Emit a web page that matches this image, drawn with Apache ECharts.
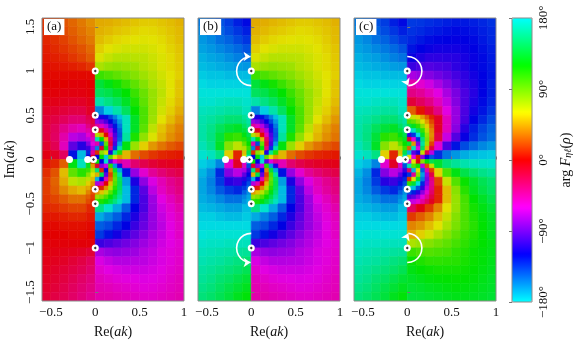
<!DOCTYPE html>
<html><head><meta charset="utf-8">
<style>html,body{margin:0;padding:0;background:#fff}#c{width:577px;height:344px}</style>
<script src="https://cdn.jsdelivr.net/npm/echarts@6/dist/echarts.min.js"></script></head>
<body><div id="c"></div>
<script>
var xCoarse=[-.55,-.45,-.35,-.25,-.15,-.05,.05,.15,.25,.35,.45,.55,.65,.75,.85,.95];
var yCoarse=[1.55,1.45,1.35,1.25,1.15,1.05,.95,.85,.75,.65,.55,.45,.35,.25,.15,.05,-.05,-.15,-.25,-.35,-.45,-.55,-.65,-.75,-.85,-.95,-1.05,-1.15,-1.25,-1.35,-1.45,-1.55];
var xFine=[-.075,-.025,.025,.075,.125,.175,.225,.275];
var yFine=[.475,.425,.375,.325,.275,.225,.175,.125,.075,.025,-.025,-.075,-.125,-.175,-.225,-.275,-.325,-.375,-.425,-.475];
var argACoarse=[
[14,18,22,27,32,38,45,46,48,50,52,54,54,52,50,47],
[12,15,20,25,30,35,47,49,52,54,56,58,57,55,52,49],
[10,13,17,22,27,32,50,54,57,59,60,61,60,58,54,50],
[8,11,14,18,22,28,55,60,63,65,65,65,63,60,56,52],
[6,8,10,14,18,24,62,68,72,72,71,70,66,62,58,53],
[4,5,6,8,10,14,75,80,82,80,78,72,68,62,58,54],
[2,2,2,2,2,2,105,100,95,90,85,78,72,65,60,55],
[0,0,0,-2,-2,0,135,125,115,105,95,85,75,68,60,52],
[-2,-2,-4,-4,-4,-2,145,140,130,120,105,92,80,70,60,52],
[-6,-6,-8,-10,-10,-6,165,155,145,130,112,95,80,68,58,50],
[-10,-12,-15,-18,-18,-10,-155,-175,165,145,120,100,80,65,55,46],
[-14,-18,-24,-30,-30,-15,-125,-135,-165,170,130,100,78,60,50,40],
[-16,-24,-36,-45,-50,-25,-25,-70,-135,170,130,96,70,52,42,34],
[-16,-26,-45,-70,-75,-50,101,-7,-120,162,113,82,62,48,38,31],
[-12,-22,-50,-95,-110,-100,0,40,-148,124,80,55,40,31,24,19],
[-5,-10,-25,-125,-170,-40,120,-120,92,48,29,20,14,10,8,6],
[5,10,25,125,170,40,-120,120,-92,-48,-29,-20,-14,-10,-8,-6],
[12,22,50,95,110,100,0,-40,148,-124,-80,-55,-40,-31,-24,-19],
[16,26,45,70,75,50,-101,7,120,-162,-113,-82,-62,-48,-38,-31],
[16,24,36,45,50,25,25,70,135,-170,-130,-96,-70,-52,-42,-34],
[14,18,24,30,30,15,125,135,165,-170,-130,-100,-78,-60,-50,-40],
[10,12,15,18,18,10,155,175,-165,-145,-120,-100,-80,-65,-55,-46],
[6,6,8,10,10,6,-165,-155,-145,-130,-112,-95,-80,-68,-58,-50],
[2,2,4,4,4,2,-145,-140,-130,-120,-105,-92,-80,-70,-60,-52],
[0,0,0,2,2,0,-135,-125,-115,-105,-95,-85,-75,-68,-60,-52],
[-2,-2,-2,-2,-2,-2,-105,-100,-95,-90,-85,-78,-72,-65,-60,-55],
[-4,-5,-6,-8,-10,-14,-75,-80,-82,-80,-78,-72,-68,-62,-58,-54],
[-6,-8,-10,-14,-18,-24,-62,-68,-72,-72,-71,-70,-66,-62,-58,-53],
[-8,-11,-14,-18,-22,-28,-55,-60,-63,-65,-65,-65,-63,-60,-56,-52],
[-10,-13,-17,-22,-27,-32,-50,-54,-57,-59,-60,-61,-60,-58,-54,-50],
[-12,-15,-20,-25,-30,-35,-47,-49,-52,-54,-56,-58,-57,-55,-52,-49],
[-14,-18,-22,-27,-32,-38,-45,-46,-48,-50,-52,-54,-54,-52,-50,-47]];
var argAFine=[
[-20,-12,-108,-113,-124,-138,-154,-171],
[-25,-16,-79,-86,-100,-119,-139,-161],
[-35,-22,-41,-52,-72,-97,-125,-152],
[-45,-30,7,-9,-38,-74,-110,-145],
[-55,-40,73,46,2,-49,-99,-142],
[-70,-50,167,120,48,-28,-93,-146],
[-85,-60,-47,-140,95,-17,-101,-162],
[-105,-75,-154,-12,121,-35,-133,164],
[-130,-40,12,84,65,-111,160,111],
[-120,-10,-120,120,-175,96,59,39],
[120,10,120,-120,175,-96,-59,-39],
[130,40,-12,-84,-65,111,-160,-111],
[105,75,154,12,-121,35,133,-164],
[85,60,47,140,-95,17,101,162],
[70,50,-167,-120,-48,28,93,146],
[55,40,-73,-46,-2,49,99,142],
[45,30,-7,9,38,74,110,145],
[35,22,41,52,72,97,125,152],
[25,16,79,86,100,119,139,161],
[20,12,108,113,124,138,154,171]];
var argBCoarse=[
[-152,-148,-142,-136,-128,-122,45,46,48,50,52,54,54,52,50,47],
[-156,-152,-146,-140,-134,-128,47,49,52,54,56,58,57,55,52,49],
[-160,-156,-150,-146,-140,-134,50,54,57,59,60,61,60,58,54,50],
[-163,-160,-156,-152,-148,-142,55,60,63,65,65,65,63,60,56,52],
[-167,-164,-162,-158,-154,-150,62,68,72,72,71,70,66,62,58,53],
[-170,-168,-166,-164,-162,-160,75,80,82,80,78,72,68,62,58,54],
[-174,-172,-172,-170,-170,-170,105,100,95,90,85,78,72,65,60,55],
[-178,-176,-176,-176,-176,-176,135,125,115,105,95,85,75,68,60,52],
[178,178,178,178,178,178,145,140,130,120,105,92,80,70,60,52],
[175,175,172,170,170,174,165,155,145,130,112,95,80,68,58,50],
[170,168,165,162,162,170,-155,-175,165,145,120,100,80,65,55,46],
[166,162,156,150,150,165,-125,-135,-165,170,130,100,78,60,50,40],
[164,156,144,135,130,155,-25,-70,-135,170,130,96,70,52,42,34],
[164,154,135,110,105,130,101,-7,-120,162,113,82,62,48,38,31],
[168,158,130,85,70,80,0,40,-148,124,80,55,40,31,24,19],
[175,170,155,55,10,140,120,-120,92,48,29,20,14,10,8,6],
[-175,-170,-155,-55,-10,-140,-120,120,-92,-48,-29,-20,-14,-10,-8,-6],
[-168,-158,-130,-85,-70,-80,0,-40,148,-124,-80,-55,-40,-31,-24,-19],
[-164,-154,-135,-110,-105,-130,-101,7,120,-162,-113,-82,-62,-48,-38,-31],
[-164,-156,-144,-135,-130,-155,25,70,135,-170,-130,-96,-70,-52,-42,-34],
[-166,-162,-156,-150,-150,-165,125,135,165,-170,-130,-100,-78,-60,-50,-40],
[-170,-168,-165,-162,-162,-170,155,175,-165,-145,-120,-100,-80,-65,-55,-46],
[-175,-175,-172,-170,-170,-174,-165,-155,-145,-130,-112,-95,-80,-68,-58,-50],
[-178,-178,-178,-178,-178,-178,-145,-140,-130,-120,-105,-92,-80,-70,-60,-52],
[178,176,176,176,176,176,-135,-125,-115,-105,-95,-85,-75,-68,-60,-52],
[174,172,172,170,170,170,-105,-100,-95,-90,-85,-78,-72,-65,-60,-55],
[170,168,166,164,162,160,-75,-80,-82,-80,-78,-72,-68,-62,-58,-54],
[167,164,162,158,154,150,-62,-68,-72,-72,-71,-70,-66,-62,-58,-53],
[163,160,156,152,148,142,-55,-60,-63,-65,-65,-65,-63,-60,-56,-52],
[160,156,150,146,140,134,-50,-54,-57,-59,-60,-61,-60,-58,-54,-50],
[156,152,146,140,134,128,-47,-49,-52,-54,-56,-58,-57,-55,-52,-49],
[152,148,142,136,128,122,-45,-46,-48,-50,-52,-54,-54,-52,-50,-47]];
var argBFine=[
[160,168,-108,-113,-124,-138,-154,-171],
[155,164,-79,-86,-100,-119,-139,-161],
[145,158,-41,-52,-72,-97,-125,-152],
[135,150,7,-9,-38,-74,-110,-145],
[125,140,73,46,2,-49,-99,-142],
[110,130,167,120,48,-28,-93,-146],
[95,120,-47,-140,95,-17,-101,-162],
[75,105,-154,-12,121,-35,-133,164],
[50,140,12,84,65,-111,160,111],
[60,170,-120,120,-175,96,59,39],
[-60,-170,120,-120,175,-96,-59,-39],
[-50,-140,-12,-84,-65,111,-160,-111],
[-75,-105,154,12,-121,35,133,-164],
[-95,-120,47,140,-95,17,101,162],
[-110,-130,-167,-120,-48,28,93,146],
[-125,-140,-73,-46,-2,49,99,142],
[-135,-150,-7,9,38,74,110,145],
[-145,-158,41,52,72,97,125,152],
[-155,-164,79,86,100,119,139,161],
[-160,-168,108,113,124,138,154,171]];
var argCCoarse=[
[-152,-148,-142,-136,-128,-122,-135,-134,-132,-130,-128,-126,-126,-128,-130,-133],
[-156,-152,-146,-140,-134,-128,-133,-131,-128,-126,-124,-122,-123,-125,-128,-131],
[-160,-156,-150,-146,-140,-134,-130,-126,-123,-121,-120,-119,-120,-122,-126,-130],
[-163,-160,-156,-152,-148,-142,-125,-120,-117,-115,-115,-115,-117,-120,-124,-128],
[-167,-164,-162,-158,-154,-150,-118,-112,-108,-108,-109,-110,-114,-118,-122,-127],
[-170,-168,-166,-164,-162,-160,-105,-100,-98,-100,-102,-108,-112,-118,-122,-126],
[-174,-172,-172,-170,-170,-170,-75,-80,-85,-90,-95,-102,-108,-115,-120,-125],
[-178,-176,-176,-176,-176,-176,-45,-55,-65,-75,-85,-95,-105,-112,-120,-128],
[178,178,178,178,178,178,-35,-40,-50,-60,-75,-88,-100,-110,-120,-128],
[175,175,172,170,170,174,-15,-25,-35,-50,-68,-85,-100,-112,-122,-130],
[170,168,165,162,162,170,25,5,-15,-35,-60,-80,-100,-115,-125,-134],
[166,162,156,150,150,165,55,45,15,-10,-50,-80,-102,-120,-130,-140],
[164,156,144,135,130,155,155,110,45,-10,-50,-84,-110,-128,-138,-146],
[164,154,135,110,105,130,-79,173,60,-18,-67,-98,-118,-132,-142,-149],
[168,158,130,85,70,80,180,-140,32,-56,-100,-125,-140,-149,-156,-161],
[175,170,155,55,10,140,-60,60,-88,-132,-151,-160,-166,-170,-172,-174],
[-175,-170,-155,-55,-10,-140,60,-60,88,132,151,160,166,170,172,174],
[-168,-158,-130,-85,-70,-80,180,140,-32,56,100,125,140,149,156,161],
[-164,-154,-135,-110,-105,-130,79,-173,-60,18,67,98,118,132,142,149],
[-164,-156,-144,-135,-130,-155,-155,-110,-45,10,50,84,110,128,138,146],
[-166,-162,-156,-150,-150,-165,-55,-45,-15,10,50,80,102,120,130,140],
[-170,-168,-165,-162,-162,-170,-25,-5,15,35,60,80,100,115,125,134],
[-175,-175,-172,-170,-170,-174,15,25,35,50,68,85,100,112,122,130],
[-178,-178,-178,-178,-178,-178,35,40,50,60,75,88,100,110,120,128],
[178,176,176,176,176,176,45,55,65,75,85,95,105,112,120,128],
[174,172,172,170,170,170,75,80,85,90,95,102,108,115,120,125],
[170,168,166,164,162,160,105,100,98,100,102,108,112,118,122,126],
[167,164,162,158,154,150,118,112,108,108,109,110,114,118,122,127],
[163,160,156,152,148,142,125,120,117,115,115,115,117,120,124,128],
[160,156,150,146,140,134,130,126,123,121,120,119,120,122,126,130],
[156,152,146,140,134,128,133,131,128,126,124,122,123,125,128,131],
[152,148,142,136,128,122,135,134,132,130,128,126,126,128,130,133]];
var argCFine=[
[160,168,72,67,56,42,26,9],
[155,164,101,94,80,61,41,19],
[145,158,139,128,108,83,55,28],
[135,150,-173,171,142,106,70,35],
[125,140,-107,-134,-178,131,81,38],
[110,130,-13,-60,-132,152,87,34],
[95,120,133,40,-85,163,79,18],
[75,105,26,168,-59,145,47,-16],
[50,140,-168,-96,-115,69,-20,-69],
[60,170,60,-60,5,-84,-121,-141],
[-60,-170,-60,60,-5,84,121,141],
[-50,-140,168,96,115,-69,20,69],
[-75,-105,-26,-168,59,-145,-47,16],
[-95,-120,-133,-40,85,-163,-79,-18],
[-110,-130,13,60,132,-152,-87,-34],
[-125,-140,107,134,178,-131,-81,-38],
[-135,-150,173,-171,-142,-106,-70,-35],
[-145,-158,-139,-128,-108,-83,-55,-28],
[-155,-164,-101,-94,-80,-61,-41,-19],
[-160,-168,-72,-67,-56,-42,-26,-9]];
var poles=[[0,1],[0,.5],[0,.335],[0,-.335],[0,-.5],[0,-1],[-.02,0]];
var zeros=[[-.29,0],[-.085,0]];
var arcBTop=[[0,.835],[-.083,.857],[-.143,.918],[-.165,1],[-.143,1.083],[-.083,1.143],[-.008,1.165]];
var arcBBottom=[[0,-.835],[-.083,-.857],[-.143,-.918],[-.165,-1],[-.143,-1.083],[-.083,-1.143],[-.008,-1.165]];
var arcCTop=[[0,1.165],[.083,1.143],[.143,1.083],[.165,1],[.143,.918],[.083,.857],[.012,.835]];
var arcCBottom=[[0,-1.165],[.083,-1.143],[.143,-1.083],[.165,-1],[.143,-.918],[.083,-.857],[.012,-.835]];
var xTicks=[-.5,0,.5,1], yTicks=[-1.5,-1,-.5,0,.5,1,1.5];

var serif='"Liberation Serif",serif', ink='#111', FS=13;
function minus(v){return String(v).replace('-','\u2212');}
function cells(rows,xs,ys){var d=[];rows.forEach(function(r,j){r.forEach(function(v,i){d.push([xs[i],ys[j],v]);});});return d;}
function tile(hx,hy){return function(p,api){
  var a=api.coord([api.value(0)-hx,api.value(1)+hy]),b=api.coord([api.value(0)+hx,api.value(1)-hy]);
  var c=api.visual('color');
  return {type:'rect',shape:{x:a[0],y:a[1],width:b[0]-a[0],height:b[1]-a[1]},style:{fill:c,stroke:c,lineWidth:.6}};
};}
function label3(a,b,c){return '{r|'+a+'}{i|'+b+'}{r|'+c+'}';}
var rich={r:{fontFamily:serif,fontSize:14,color:ink},i:{fontFamily:serif,fontStyle:'italic',fontSize:14,color:ink},
  s:{fontFamily:serif,fontStyle:'italic',fontSize:10,color:ink,verticalAlign:'bottom'}};
var tickStyle={color:'#777',width:1};
var lefts=[42,198,354], tags=['(a)','(b)','(c)'];
var coarse=[argACoarse,argBCoarse,argCCoarse], fine=[argAFine,argBFine,argCFine];
var arcs=[[],[[arcBTop,-90],[arcBBottom,-90]],[[arcCTop,-155],[arcCBottom,-25]]];
var grids=[],xAxes=[],yAxes=[],series=[],titles=[],tileIdx=[];
lefts.forEach(function(l,k){
  grids.push({left:l,top:18,width:142,height:284,show:true,borderColor:'#8a8a8a',borderWidth:1,z:5,backgroundColor:'transparent'});
  xAxes.push({type:'value',gridIndex:k,min:-.6,max:1,z:6,splitLine:{show:false},axisLine:{show:false},
    axisTick:{show:true,inside:true,length:3,customValues:xTicks,lineStyle:tickStyle},
    axisLabel:{show:true,customValues:xTicks,formatter:minus,fontFamily:serif,fontSize:FS,color:ink,margin:5,hideOverlap:false},
    name:label3('Re(','ak',')'),nameLocation:'middle',nameGap:24,nameTextStyle:{rich:rich}});
  var y={type:'value',gridIndex:k,min:-1.6,max:1.6,z:6,splitLine:{show:false},axisLine:{show:false},
    axisTick:{show:true,inside:true,length:3,customValues:yTicks,lineStyle:tickStyle},
    axisLabel:{show:k===0,customValues:yTicks,formatter:minus,rotate:90,fontFamily:serif,fontSize:FS,color:ink,margin:5,hideOverlap:false}};
  if(k===0){y.name=label3('Im(','ak',')');y.nameLocation='middle';y.nameGap=25;y.nameTextStyle={rich:rich};}
  yAxes.push(y);
  titles.push({text:tags[k],left:l+2,top:19,padding:[1,3,2,3],backgroundColor:'#fff',textStyle:{fontFamily:serif,fontSize:13,fontWeight:'normal',color:ink}});
  var axes={xAxisIndex:k,yAxisIndex:k};
  tileIdx.push(series.length);
  series.push(Object.assign({type:'custom',renderItem:tile(.05,.05),data:cells(coarse[k],xCoarse,yCoarse),encode:{x:0,y:1},silent:true,clip:true,z:2},axes));
  tileIdx.push(series.length);
  series.push(Object.assign({type:'custom',renderItem:tile(.025,.025),data:cells(fine[k],xFine,yFine),encode:{x:0,y:1},silent:true,clip:true,z:3},axes));
  arcs[k].forEach(function(a){
    var pts=a[0],rot=a[1];
    series.push(Object.assign({type:'line',z:7,silent:true,showSymbol:true,showAllSymbol:true,animation:false,smooth:true,
      lineStyle:{color:'#fff',width:1.6},itemStyle:{color:'#fff'},
      data:pts.map(function(p,i){return i===pts.length-1?{value:p,symbol:'arrow',symbolSize:7,symbolRotate:rot}:{value:p,symbol:'none'};})},axes));
  });
  series.push(Object.assign({type:'scatter',z:8,silent:true,animation:false,symbol:'circle',symbolSize:7,itemStyle:{color:'#fff',opacity:1},data:poles.concat(zeros)},axes));
  series.push(Object.assign({type:'scatter',z:9,silent:true,animation:false,symbol:'diamond',symbolSize:3,itemStyle:{color:'#333',opacity:1},data:poles},axes));
});
grids.push({left:512,top:18,width:20,height:284,show:true,borderColor:'#8a8a8a',borderWidth:1,z:5,backgroundColor:'transparent'});
xAxes.push({type:'value',gridIndex:3,min:0,max:1,show:false});
yAxes.push({type:'value',gridIndex:3,position:'right',min:-180,max:180,interval:90,z:6,splitLine:{show:false},axisLine:{show:false},
  axisTick:{show:true,inside:true,length:3,lineStyle:tickStyle},
  axisLabel:{show:true,rotate:90,fontFamily:serif,fontSize:FS,color:ink,margin:5,hideOverlap:false,formatter:function(v){return minus(v)+'\u00b0';}},
  name:'{r|arg }{i|F}{s|\u03b7\u2113}{r|(}{i|\u03c1}{r|)}',nameLocation:'middle',nameGap:27,nameRotate:90,nameTextStyle:{rich:rich}});
var barIdx=series.length;
series.push({type:'scatter',xAxisIndex:3,yAxisIndex:3,data:[],silent:true});
var hueBar=['#00ffff','#0000ff','#ff00ff','#ff0000','#ffff00','#00ff00','#00ffff'];
var hueTile=['#00e2e2','#0000e2','#e200e2','#e20000','#e2e200','#00e200','#00e2e2'];
echarts.init(document.getElementById('c'),null,{renderer:'canvas'}).setOption({
  animation:false,backgroundColor:'#fff',title:titles,grid:grids,xAxis:xAxes,yAxis:yAxes,series:series,tooltip:{show:false},
  visualMap:[
    {type:'continuous',show:false,min:-180,max:180,dimension:2,seriesIndex:tileIdx,inRange:{color:hueTile}},
    {type:'continuous',show:true,left:512,top:18,itemWidth:20,itemHeight:284,padding:0,min:-180,max:180,calculable:false,realtime:false,text:null,showLabel:false,hoverLink:false,seriesIndex:[barIdx],inRange:{color:hueBar},textStyle:{color:'rgba(0,0,0,0)'},formatter:function(){return '';}}
  ]
});
</script>
</body></html>
